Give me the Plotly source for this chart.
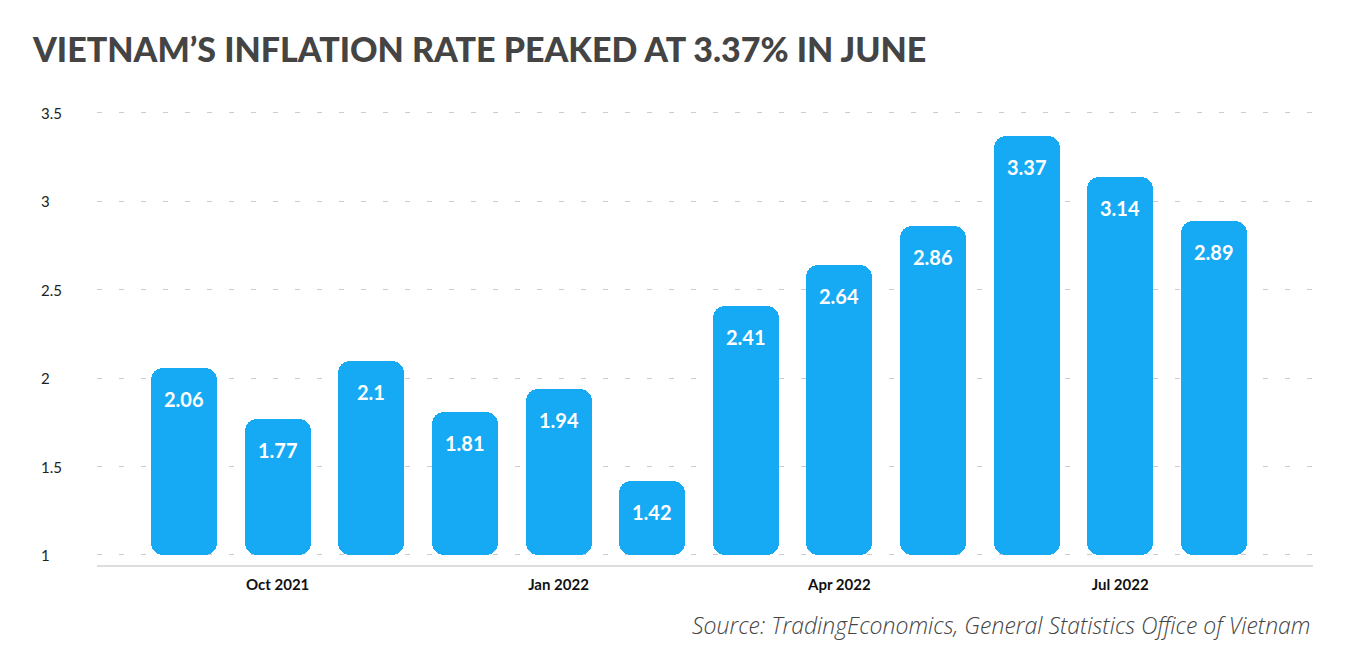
import plotly.graph_objects as go

months = ["Sep 2021", "Oct 2021", "Nov 2021", "Dec 2021", "Jan 2022", "Feb 2022",
          "Mar 2022", "Apr 2022", "May 2022", "Jun 2022", "Jul 2022", "Aug 2022"]
inflation = [2.06, 1.77, 2.10, 1.81, 1.94, 1.42, 2.41, 2.64, 2.86, 3.37, 3.14, 2.89]
value_labels = ["2.06", "1.77", "2.1", "1.81", "1.94", "1.42", "2.41", "2.64", "2.86", "3.37", "3.14", "2.89"]
x_tick_vals = ["Oct 2021", "Jan 2022", "Apr 2022", "Jul 2022"]
y_tick_vals = [1, 1.5, 2, 2.5, 3, 3.5]
y_tick_text = ["1", "1.5", "2", "2.5", "3", "3.5"]

BAR = "#16AAF5"
FONT = "Lato"
W, H = 1342, 647  # page body has an 8px margin

fig = go.Figure()
fig.add_trace(go.Bar(
    x=months, y=[v - 1 for v in inflation], base=1,
    marker=dict(color=BAR, line=dict(width=0)),
    width=0.705, hoverinfo="skip",
))

annotations = []
for m, v, t in zip(months, inflation, value_labels):
    annotations.append(dict(x=m, y=v, xref="x", yref="y", text=t, showarrow=False,
                            yshift=-31, font=dict(family=FONT, size=20, color="white", weight=700)))
for v, t in zip(y_tick_vals, y_tick_text):
    annotations.append(dict(x=0, y=v, xref="paper", yref="y", text=t, showarrow=False,
                            xanchor="left", xshift=-58, font=dict(family=FONT, size=15, color="#222")))
annotations.append(dict(x=1, y=0, xref="paper", yref="paper", yshift=-60, xanchor="right",
                        yanchor="middle", showarrow=False,
                        text="<i>Source: TradingEconomics, General Statistics Office of Vietnam</i>",
                        font=dict(family="Open Sans", size=23, color="#444", weight=300)))

fig.update_layout(
    width=W, height=H,
    margin=dict(l=89, r=37, t=97, b=90),
    paper_bgcolor="white", plot_bgcolor="white",
    showlegend=False,
    title=dict(text="VIETNAM’S INFLATION RATE PEAKED AT 3.37% IN JUNE",
               x=25 / W, xanchor="left", y=1 - 42 / H, yanchor="middle",
               font=dict(family=FONT, size=34, color="#444", weight=900)),
    annotations=annotations,
    bargap=0, barcornerradius=12,
)
fig.update_xaxes(
    range=[-0.93, 12.06], tickvals=x_tick_vals, ticktext=x_tick_vals,
    showgrid=False, showline=True, linecolor="#dddddd", linewidth=2,
    ticks="", tickfont=dict(family=FONT, size=15, color="#111", weight=700),
    ticklabelstandoff=5,
)
fig.update_yaxes(
    range=[0.9434, 3.545], tickvals=y_tick_vals, showticklabels=False,
    showgrid=True, gridcolor="#cccccc", gridwidth=1, griddash="5px,17px",
    zeroline=False, showline=False,
)
fig.write_html("out.html")
